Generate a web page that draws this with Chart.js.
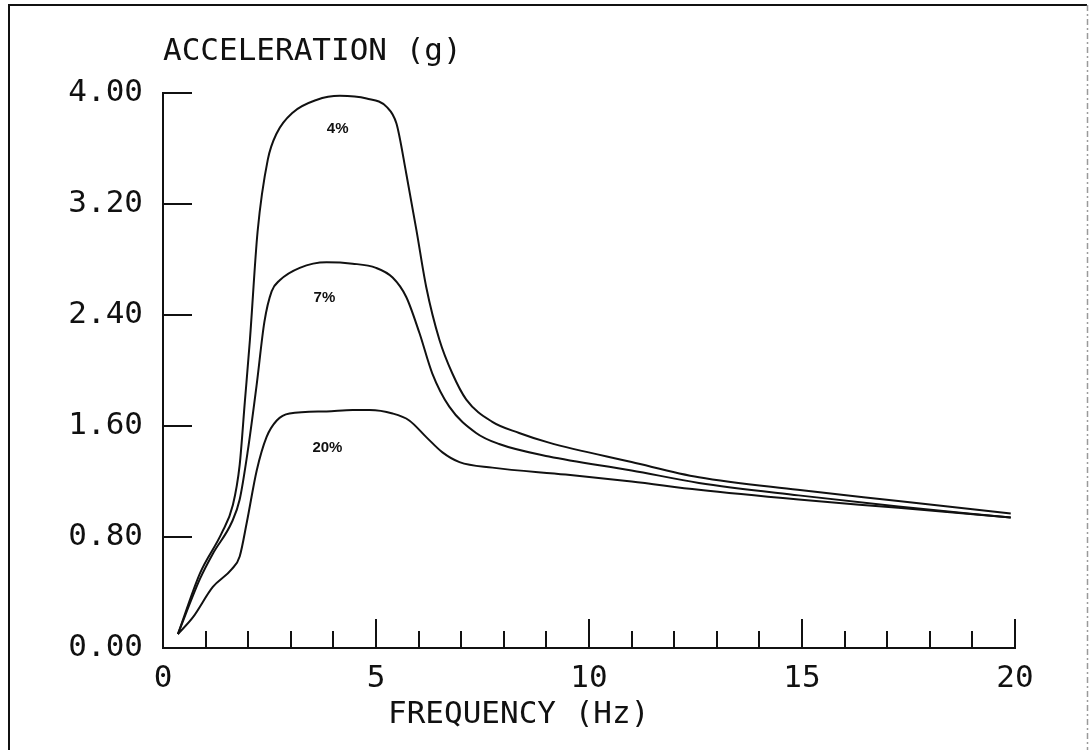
<!DOCTYPE html>
<html>
<head>
<meta charset="utf-8">
<title>Acceleration response spectra</title>
<script src="https://cdn.jsdelivr.net/npm/chart.js@4.4.1/dist/chart.umd.min.js"></script>
<style>
  html, body { margin: 0; padding: 0; background: #ffffff; }
  #wrap { position: relative; width: 1091px; height: 750px; }
</style>
</head>
<body>
<div id="wrap"><canvas id="spectrum" width="1091" height="750"></canvas></div>
<script>
// Response spectra for three damping ratios: frequency (Hz) vs acceleration (g)
const freq4 = [0.35, 0.87, 1.38, 1.64, 1.80, 1.92, 2.04, 2.22, 2.46, 2.67, 3.05, 3.60, 4.15, 4.78, 5.25, 5.48, 5.71, 5.95, 6.18, 6.49, 6.79, 7.12, 7.73, 8.36, 9.06, 11.0, 12.58, 14.9, 17.26, 19.9];
const accel4 = [0.10, 0.54, 0.83, 1.03, 1.32, 1.77, 2.22, 3.00, 3.52, 3.71, 3.86, 3.95, 3.98, 3.96, 3.90, 3.78, 3.42, 3.01, 2.60, 2.22, 1.98, 1.79, 1.63, 1.55, 1.48, 1.34, 1.23, 1.14, 1.06, 0.97];

const freq7 = [0.35, 0.87, 1.17, 1.62, 1.80, 1.99, 2.20, 2.38, 2.55, 2.74, 3.21, 3.84, 4.45, 5.00, 5.39, 5.71, 6.02, 6.32, 6.72, 7.35, 7.89, 9.06, 11.0, 12.58, 14.92, 17.26, 19.9];
const accel7 = [0.10, 0.50, 0.68, 0.91, 1.07, 1.42, 1.90, 2.35, 2.57, 2.65, 2.74, 2.78, 2.77, 2.74, 2.67, 2.53, 2.27, 1.98, 1.74, 1.55, 1.47, 1.38, 1.28, 1.19, 1.10, 1.02, 0.94];

const freq20 = [0.35, 0.70, 1.17, 1.62, 1.80, 1.97, 2.20, 2.43, 2.67, 2.97, 3.84, 4.45, 4.85, 5.39, 5.78, 6.18, 6.56, 6.96, 7.73, 9.45, 11.0, 12.58, 14.92, 17.26, 19.9];
const accel20 = [0.10, 0.22, 0.44, 0.57, 0.66, 0.91, 1.28, 1.52, 1.64, 1.69, 1.705, 1.715, 1.715, 1.69, 1.64, 1.52, 1.41, 1.34, 1.30, 1.25, 1.20, 1.14, 1.07, 1.01, 0.94];

// Damping annotations placed inside each curve
const curveLabels = ['4%', '7%', '20%'];
const curveLabelFreq = [4.10, 3.79, 3.86];
const curveLabelAccel = [3.74, 2.52, 1.44];

// Axis ranges and tick spacing
const yTickValues = [0, 0.8, 1.6, 2.4, 3.2, 4.0];
const xMajorEvery = 5;

const yTitle = 'ACCELERATION (g)';
const xTitle = 'FREQUENCY (Hz)';

const plotFont = '"DejaVu Sans Mono", "Liberation Mono", monospace';
const ink = '#111111';

function points(xs, ys) {
  return xs.map((x, i) => ({ x: x, y: ys[i] }));
}

function curve(xs, ys) {
  return {
    data: points(xs, ys),
    borderColor: ink,
    borderWidth: 2,
    pointRadius: 0,
    fill: false,
    cubicInterpolationMode: 'monotone'
  };
}

// Page frame, inward tick marks, axis titles and curve annotations
const plotterDecor = {
  id: 'plotterDecor',
  afterDraw(chart) {
    const ctx = chart.ctx;
    const xs = chart.scales.x;
    const ys = chart.scales.y;
    const area = chart.chartArea;
    ctx.save();

    // frame around the sheet
    ctx.strokeStyle = ink;
    ctx.lineWidth = 2;
    ctx.beginPath();
    ctx.moveTo(9, 750);
    ctx.lineTo(9, 5);
    ctx.lineTo(1087, 5);
    ctx.stroke();
    ctx.strokeStyle = '#9a9a9a';
    ctx.lineWidth = 1.5;
    ctx.setLineDash([6, 3, 2, 3]);
    ctx.beginPath();
    ctx.moveTo(1087.5, 5);
    ctx.lineTo(1087.5, 750);
    ctx.stroke();
    ctx.setLineDash([]);

    // y tick marks pointing into the plot
    ctx.strokeStyle = ink;
    ctx.lineWidth = 2;
    ctx.beginPath();
    yTickValues.forEach(v => {
      if (v === 0) return;
      const py = Math.round(ys.getPixelForValue(v));
      ctx.moveTo(area.left, py);
      ctx.lineTo(area.left + 29, py);
    });
    // x tick marks: long at every fifth Hz, short elsewhere
    for (let f = 1; f <= xs.max; f++) {
      const px = Math.round(xs.getPixelForValue(f));
      const len = (f % xMajorEvery === 0) ? 29 : 17;
      ctx.moveTo(px, area.bottom);
      ctx.lineTo(px, area.bottom - len);
    }
    ctx.stroke();

    // axis titles
    ctx.fillStyle = ink;
    ctx.font = '31px ' + plotFont;
    ctx.textAlign = 'left';
    ctx.textBaseline = 'alphabetic';
    ctx.fillText(yTitle, area.left, 60);
    ctx.fillText(xTitle, 388, 723);

    // damping labels
    ctx.font = 'bold 15px "Liberation Sans", Arial, sans-serif';
    ctx.textAlign = 'center';
    ctx.textBaseline = 'middle';
    curveLabels.forEach((t, i) => {
      ctx.fillText(t, xs.getPixelForValue(curveLabelFreq[i]), ys.getPixelForValue(curveLabelAccel[i]));
    });
    ctx.restore();
  }
};

new Chart(document.getElementById('spectrum'), {
  type: 'line',
  data: {
    datasets: [curve(freq4, accel4), curve(freq7, accel7), curve(freq20, accel20)]
  },
  options: {
    responsive: false,
    animation: false,
    events: [],
    layout: { padding: { left: 0, top: 93, right: 76, bottom: 0 } },
    plugins: { legend: { display: false }, tooltip: { enabled: false }, title: { display: false } },
    scales: {
      x: {
        type: 'linear',
        min: 0,
        max: 20,
        grid: { display: false, drawTicks: false },
        border: { display: true, color: ink, width: 2 },
        ticks: {
          stepSize: 5,
          padding: 12,
          color: ink,
          maxRotation: 0,
          font: { family: plotFont, size: 31 },
          callback: v => String(v)
        },
        afterFit: s => { s.height = 102; }
      },
      y: {
        type: 'linear',
        min: 0,
        max: 4,
        grid: { display: false, drawTicks: false },
        border: { display: true, color: ink, width: 2 },
        afterBuildTicks: s => { s.ticks = yTickValues.map(v => ({ value: v })); },
        ticks: {
          padding: 20,
          color: ink,
          font: { family: plotFont, size: 31 },
          callback: v => Number(v).toFixed(2)
        },
        afterFit: s => { s.width = 163; }
      }
    }
  },
  plugins: [plotterDecor]
});
</script>
</body>
</html>
